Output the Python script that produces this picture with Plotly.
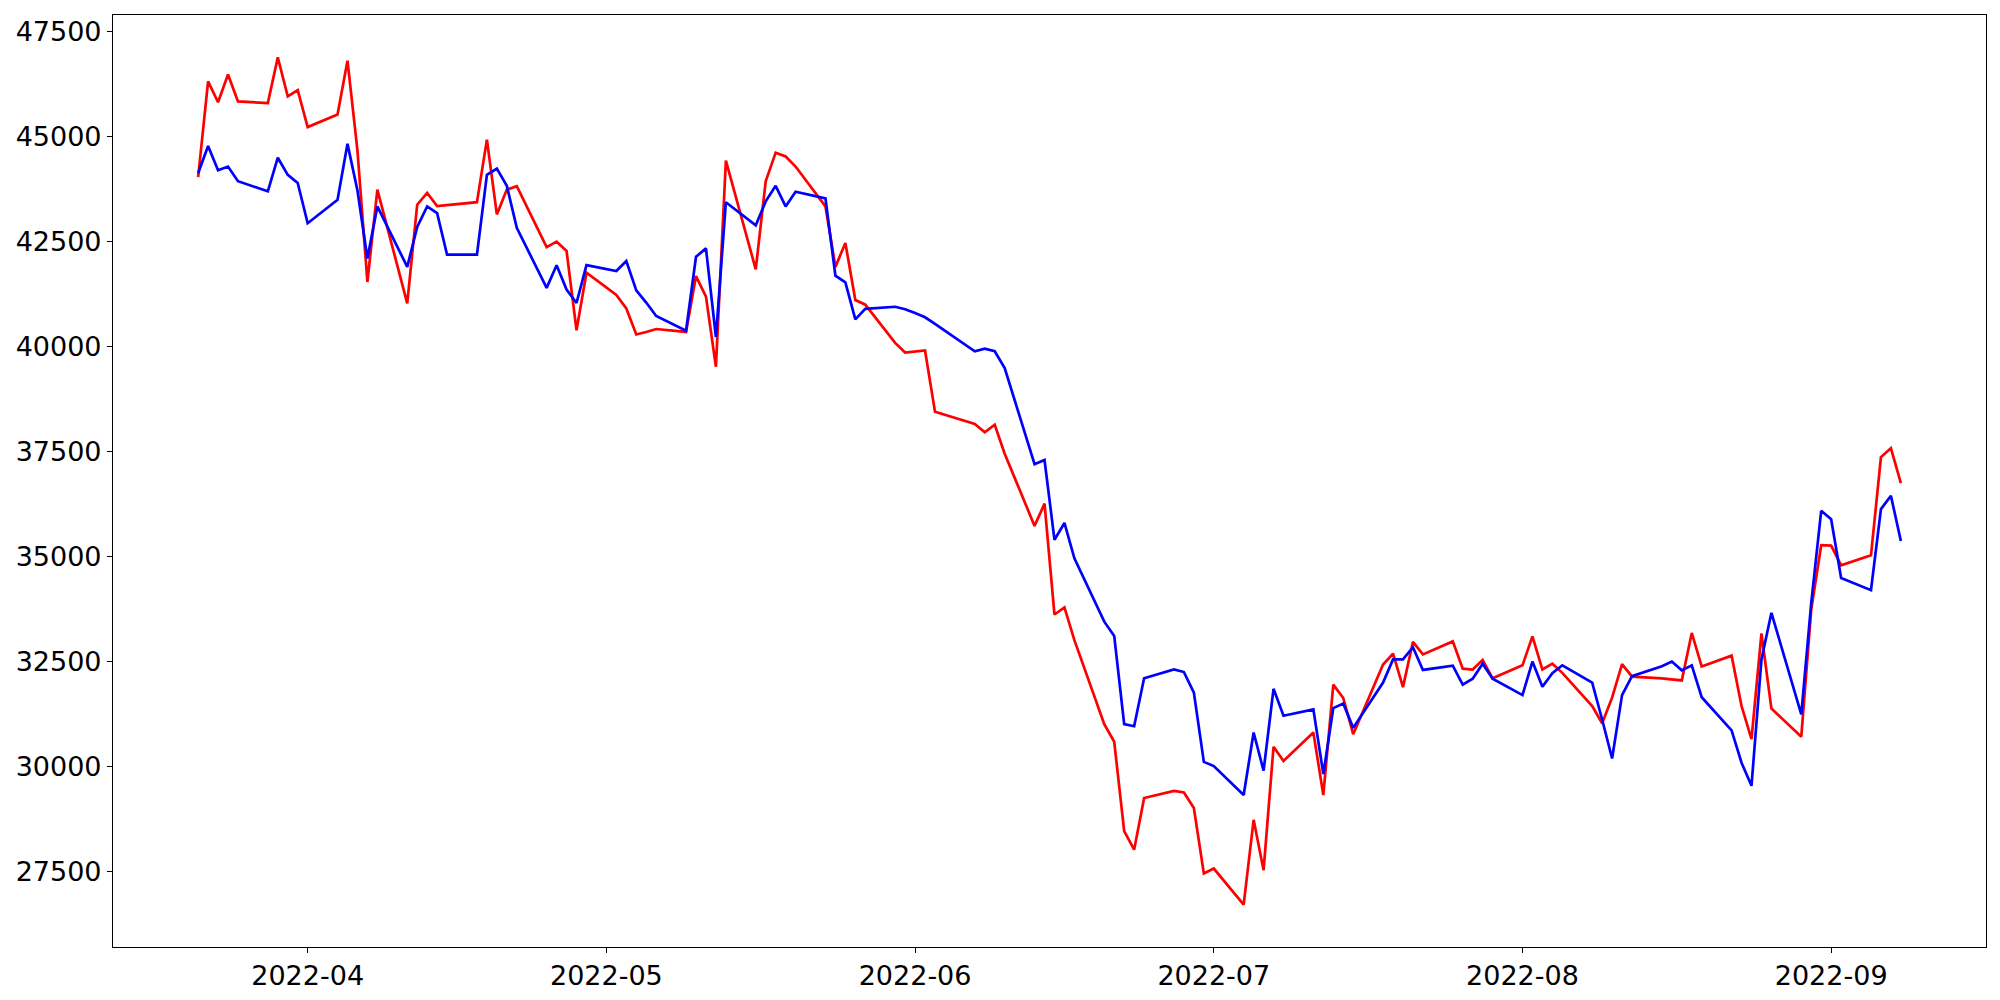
import plotly.graph_objects as go

dates = [
    "2022-03-21", "2022-03-22", "2022-03-23", "2022-03-24", "2022-03-25",
    "2022-03-28", "2022-03-29", "2022-03-30", "2022-03-31",
    "2022-04-01", "2022-04-04", "2022-04-05", "2022-04-06", "2022-04-07", "2022-04-08",
    "2022-04-11", "2022-04-12", "2022-04-13", "2022-04-14", "2022-04-15",
    "2022-04-18", "2022-04-19", "2022-04-20", "2022-04-21", "2022-04-22",
    "2022-04-25", "2022-04-26", "2022-04-27", "2022-04-28", "2022-04-29",
    "2022-05-02", "2022-05-03", "2022-05-04", "2022-05-05", "2022-05-06",
    "2022-05-09", "2022-05-10", "2022-05-11", "2022-05-12", "2022-05-13",
    "2022-05-16", "2022-05-17", "2022-05-18", "2022-05-19", "2022-05-20",
    "2022-05-23", "2022-05-24", "2022-05-25", "2022-05-26", "2022-05-27",
    "2022-05-30", "2022-05-31",
    "2022-06-01", "2022-06-02", "2022-06-03",
    "2022-06-06", "2022-06-07", "2022-06-08", "2022-06-09", "2022-06-10",
    "2022-06-13", "2022-06-14", "2022-06-15", "2022-06-16", "2022-06-17",
    "2022-06-20", "2022-06-21", "2022-06-22", "2022-06-23", "2022-06-24",
    "2022-06-27", "2022-06-28", "2022-06-29", "2022-06-30",
    "2022-07-01", "2022-07-04", "2022-07-05", "2022-07-06", "2022-07-07", "2022-07-08",
    "2022-07-11", "2022-07-12", "2022-07-13", "2022-07-14", "2022-07-15",
    "2022-07-18", "2022-07-19", "2022-07-20", "2022-07-21", "2022-07-22",
    "2022-07-25", "2022-07-26", "2022-07-27", "2022-07-28", "2022-07-29",
    "2022-08-01", "2022-08-02", "2022-08-03", "2022-08-04", "2022-08-05",
    "2022-08-08", "2022-08-09", "2022-08-10", "2022-08-11", "2022-08-12",
    "2022-08-15", "2022-08-16", "2022-08-17", "2022-08-18", "2022-08-19",
    "2022-08-22", "2022-08-23", "2022-08-24", "2022-08-25", "2022-08-26",
    "2022-08-29", "2022-08-30", "2022-08-31",
    "2022-09-01", "2022-09-02", "2022-09-05", "2022-09-06", "2022-09-07", "2022-09-08",
]

red_values = [
    44040, 46320, 45820, 46480, 45840, 45800, 46890, 45960, 46110,
    45230, 45530, 46810, 44670, 41540, 43740, 41030, 43380, 43660, 43350, 43370,
    43440, 44930, 43150, 43740, 43820, 42370, 42500, 42280, 40390, 41760,
    41230, 40910, 40290, 40350, 40420, 40350, 41680, 41190, 39520, 44430,
    41840, 43940, 44620, 44530, 44290, 43340, 41900, 42470, 41110, 41000,
    40090, 39860,
    39890, 39910, 38450, 38230, 38160, 37960, 38140, 37450, 35730, 36260,
    33620, 33790, 33010, 31010, 30590, 28460, 28020, 29250, 29420, 29380,
    29010, 27450,
    27570, 26710, 28730, 27530, 30470, 30130, 30810, 29320, 31950, 31630,
    30770, 32430, 32690, 31890, 32970, 32670, 32980, 32330, 32310, 32540, 32100,
    32410, 33100, 32310, 32450, 32230, 31440, 31030, 31640, 32440, 32140,
    32100, 32070, 32050, 33180, 32380, 32640, 31440, 30650, 33170, 31380,
    30710, 33740, 35270,
    35260, 34790, 35030, 37370, 37580, 36750,
]

blue_values = [
    44130, 44780, 44200, 44290, 43940, 43700, 44500, 44090, 43900,
    42940, 43500, 44830, 43720, 42100, 43340, 41900, 42850, 43340, 43180, 42190,
    42190, 44090, 44240, 43830, 42830, 41400, 41940, 41360, 41040, 41940,
    41800, 42040, 41340, 41050, 40730, 40380, 42140, 42340, 40230, 43440,
    42890, 43460, 43830, 43340, 43690, 43530, 41690, 41530, 40650, 40900,
    40950, 40890,
    40800, 40700, 40540, 40050, 39890, 39950, 39890, 39490, 37200, 37300,
    35400, 35800, 34960, 33450, 33110, 31010, 30960, 32100, 32310, 32250,
    31760, 30110,
    30010, 29320, 30810, 29900, 31850, 31210, 31360, 29820, 31390, 31500,
    30920, 32000, 32550, 32550, 32840, 32300, 32400, 31950, 32090, 32450, 32090,
    31700, 32500, 31900, 32220, 32410, 32000, 31120, 30190, 31700, 32150,
    32390, 32500, 32290, 32410, 31650, 30860, 30090, 29540, 32550, 33660,
    31240, 33900, 36090,
    35890, 34490, 34200, 36130, 36450, 35370,
]

month_ticks = ["2022-04-01", "2022-05-01", "2022-06-01", "2022-07-01", "2022-08-01", "2022-09-01"]
month_labels = ["2022-04", "2022-05", "2022-06", "2022-07", "2022-08", "2022-09"]
y_ticks = [27500, 30000, 32500, 35000, 37500, 40000, 42500, 45000, 47500]

fig = go.Figure()
fig.add_trace(go.Scatter(x=dates, y=red_values, mode="lines",
                         line=dict(color="#ff0000", width=2.7), showlegend=False))
fig.add_trace(go.Scatter(x=dates, y=blue_values, mode="lines",
                         line=dict(color="#0000ff", width=2.7), showlegend=False))

font_family = "DejaVu Sans"
fig.update_layout(
    width=2000, height=1000,
    margin=dict(l=113, r=14, t=15, b=53),
    paper_bgcolor="white", plot_bgcolor="white",
    font=dict(family=font_family, size=27, color="black"),
)
fig.update_xaxes(
    type="date", automargin=False,
    range=["2022-03-12 10:48", "2022-09-16 13:12"],
    tickvals=month_ticks, ticktext=month_labels,
    showgrid=False, zeroline=False,
    showline=True, linecolor="black", linewidth=1.1, mirror=True,
    ticks="outside", ticklen=5, tickwidth=1.1, tickcolor="black",
    tickfont=dict(family=font_family, size=27, color="black"),
)
fig.update_yaxes(
    automargin=False,
    range=[25701, 47899],
    tickvals=y_ticks, ticktext=[str(v) for v in y_ticks],
    showgrid=False, zeroline=False,
    showline=True, linecolor="black", linewidth=1.1, mirror=True,
    ticks="outside", ticklen=5, tickwidth=1.1, tickcolor="black",
    tickfont=dict(family=font_family, size=27, color="black"),
)

fig.write_html(
    "out.html",
    config={"displayModeBar": False},
    post_script="document.body.style.margin='0';document.body.style.overflow='hidden';",
)
